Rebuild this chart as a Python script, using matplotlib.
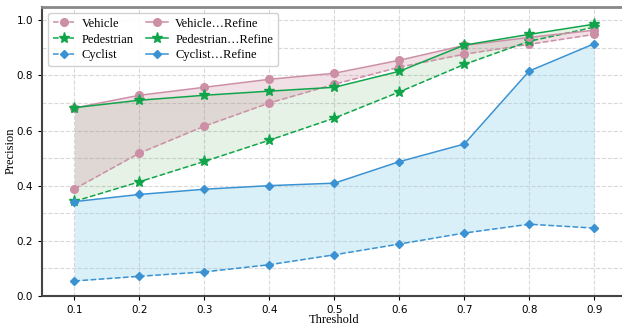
import numpy as np
import matplotlib.pyplot as plt
from matplotlib.ticker import MultipleLocator

thresh = [0.1, 0.2, 0.3, 0.4, 0.5, 0.6, 0.7, 0.8, 0.9]

vehicle = [0.388, 0.518, 0.616, 0.700, 0.768, 0.830, 0.877, 0.913, 0.949]
vehicle_ref = [0.682, 0.728, 0.757, 0.786, 0.808, 0.855, 0.909, 0.938, 0.964]
ped = [0.343, 0.414, 0.488, 0.565, 0.645, 0.740, 0.840, 0.924, 0.975]
ped_ref = [0.683, 0.710, 0.728, 0.743, 0.757, 0.815, 0.910, 0.949, 0.986]
cyc = [0.054, 0.071, 0.087, 0.113, 0.149, 0.188, 0.228, 0.260, 0.246]
cyc_ref = [0.342, 0.368, 0.387, 0.400, 0.409, 0.487, 0.551, 0.816, 0.915]

c_veh = '#cc8fa6'
c_ped = '#11a54b'
c_cyc = '#3a92d2'

fig = plt.figure(figsize=(6.22, 3.28), dpi=100)
ax = fig.add_axes([0.0675, 0.098, 0.94, 0.882])

ax.plot(thresh, vehicle, '--', color=c_veh, marker='o', ms=5.5, lw=1.1, label='Vehicle')
ax.plot(thresh, ped, '--', color=c_ped, marker='*', ms=8, lw=1.1, label='Pedestrian')
ax.plot(thresh, cyc, '--', color=c_cyc, marker='D', ms=4.5, lw=1.1, label='Cyclist')
ax.plot(thresh, vehicle_ref, '-', color=c_veh, marker='o', ms=5.5, lw=1.1, label='Vehicle\u2026Refine')
ax.plot(thresh, ped_ref, '-', color=c_ped, marker='*', ms=8, lw=1.1, label='Pedestrian\u2026Refine')
ax.plot(thresh, cyc_ref, '-', color=c_cyc, marker='D', ms=4.5, lw=1.1, label='Cyclist\u2026Refine')

# shaded gap between baseline and refined curves
ax.fill_between(thresh, ped, ped_ref, color='green', alpha=0.1, lw=0)
ax.fill_between(thresh, vehicle, vehicle_ref, color=c_veh, alpha=0.27, lw=0)
ax.fill_between(thresh, cyc, cyc_ref, color='skyblue', alpha=0.3, lw=0)

ax.set_xlim(0.05, 0.95)
ax.set_ylim(0, 1.05)
ax.set_xticks(thresh)
ax.yaxis.set_major_locator(MultipleLocator(0.2))
ax.yaxis.set_minor_locator(MultipleLocator(0.1))
ax.tick_params(axis='y', which='minor', length=0)
ax.tick_params(labelsize=7.5, length=3)
ax.grid(True, which='both', ls='--', color='#d9d9d9', lw=0.8)
ax.set_axisbelow(True)

for s in ['left', 'bottom']:
    ax.spines[s].set_color('#444444')
    ax.spines[s].set_linewidth(1.5)
ax.spines['top'].set_color('#888888')
ax.spines['top'].set_linewidth(2)
ax.spines['right'].set_visible(False)

ax.set_xlabel('Threshold', family='Liberation Serif', fontsize=9)
ax.set_ylabel('Precision', family='Liberation Serif', fontsize=9)
ax.xaxis.set_label_coords(0.5, -0.062)
ax.yaxis.set_label_coords(-0.043, 0.5)

ax.legend(loc='upper left', ncol=2, prop={'family': 'Liberation Serif', 'size': 9},
          handlelength=1.7, columnspacing=1.0, labelspacing=0.3, borderpad=0.4,
          handletextpad=0.6, framealpha=0.9, fancybox=True)

fig.savefig('out.png', dpi=100)
